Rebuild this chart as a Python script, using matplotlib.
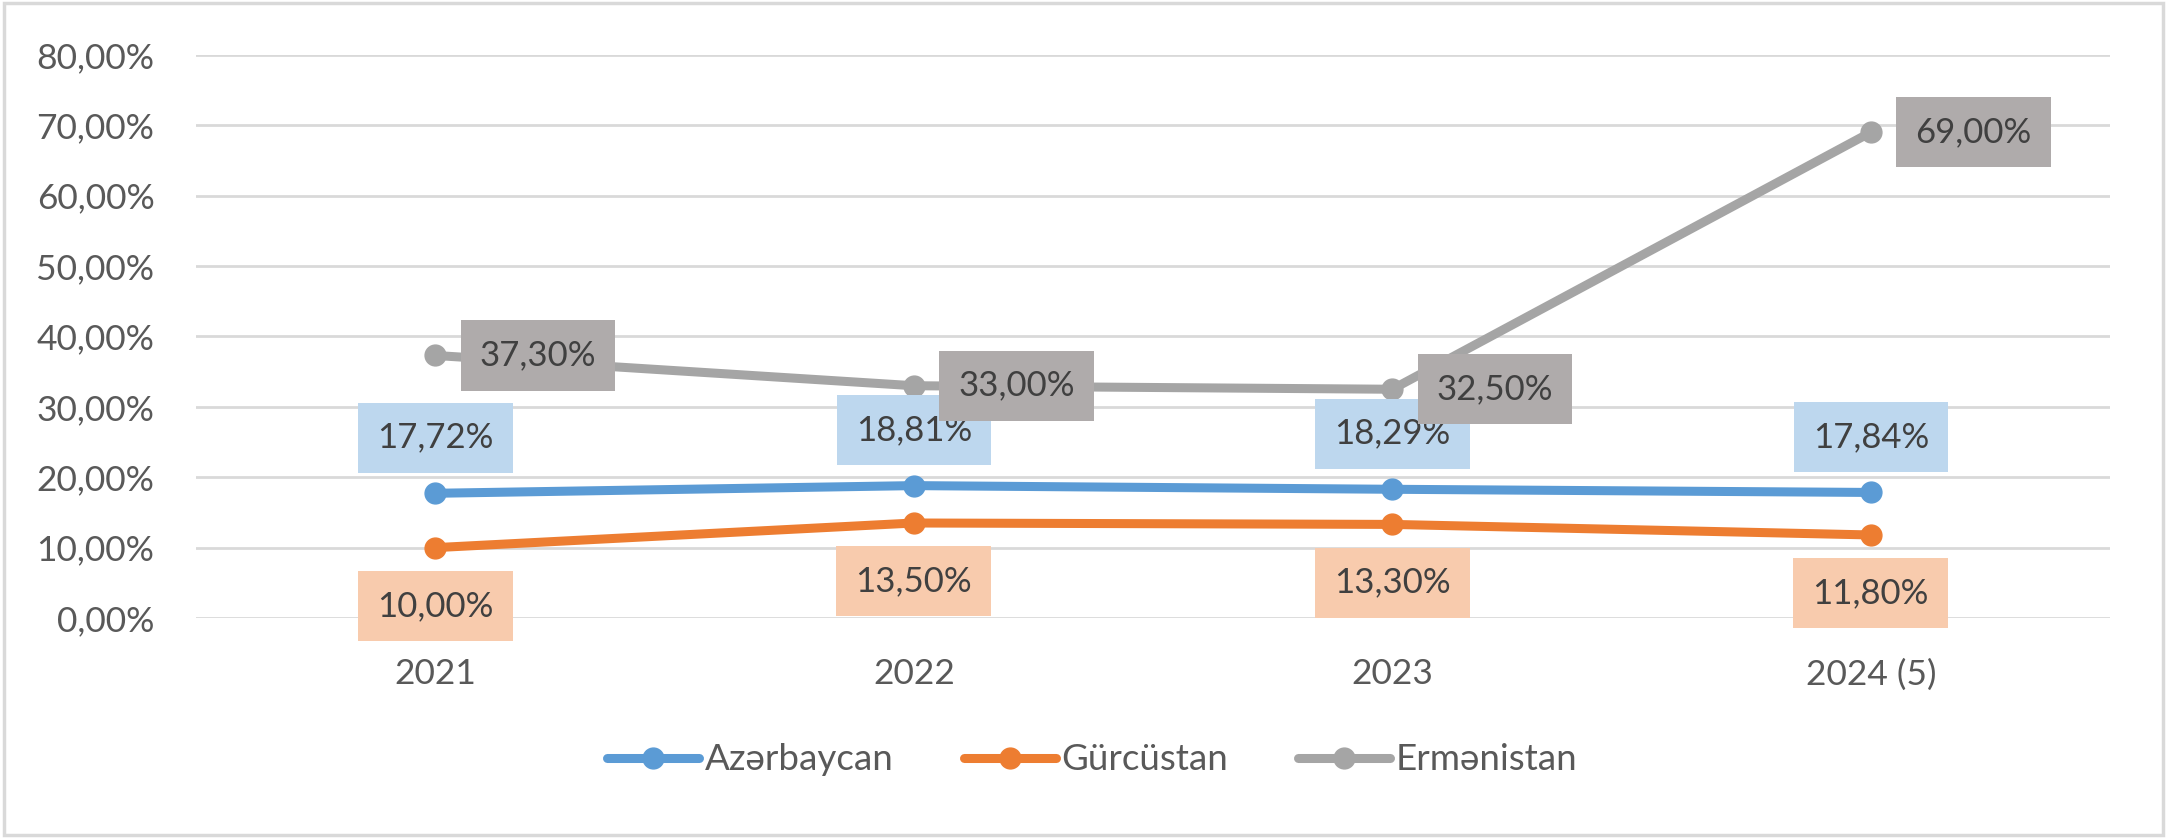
import matplotlib
matplotlib.use("Agg")
import matplotlib.pyplot as plt
from matplotlib.patches import Rectangle
from matplotlib.ticker import FuncFormatter

plt.rcParams["font.family"] = ["Lato", "DejaVu Sans"]

# data
years = ["2021", "2022", "2023", "2024 (5)"]
azerbaycan = [17.72, 18.81, 18.29, 17.84]
gurcustan = [10.00, 13.50, 13.30, 11.80]
ermenistan = [37.30, 33.00, 32.50, 69.00]
y_ticks = [0, 10, 20, 30, 40, 50, 60, 70, 80]

# series: name, values, line colour, label box colour, label offset (points)
series = [
    ("Azərbaycan", azerbaycan, "#5B9BD5", "#BDD7EE", (0, 40)),
    ("Gürcüstan", gurcustan, "#ED7D31", "#F8CBAD", (0, -42)),
    ("Ermənistan", ermenistan, "#A5A5A5", "#AFABAB", (74, 0)),
]

TXT = "#404040"
AX_TXT = "#595959"
GRID = "#D9D9D9"
FS = 25.5


def pct(v):
    return "{:.2f}%".format(v).replace(".", ",")


fig = plt.figure(figsize=(21.67, 8.38), dpi=100)
ax = fig.add_axes([0.0905, 0.2625, 0.8832, 0.672])

x = list(range(len(years)))
for i, (name, vals, col, box, off) in enumerate(series):
    ax.plot(x, vals, color=col, lw=6.5, marker="o", ms=15,
            solid_capstyle="round", label=name, zorder=3 + i)

for i, (name, vals, col, box, off) in enumerate(series):
    for xi, v in zip(x, vals):
        ax.annotate(pct(v), (xi, v), xytext=off, textcoords="offset points",
                    ha="center", va="center", fontsize=25, color=TXT,
                    bbox=dict(boxstyle="square,pad=0.55", fc=box, ec="none"),
                    zorder=10 + i)

ax.set_xlim(-0.5, len(years) - 0.5)
ax.set_ylim(0, 80)
ax.set_yticks(y_ticks)
ax.yaxis.set_major_formatter(FuncFormatter(lambda v, p: pct(v)))
ax.set_xticks(x)
ax.set_xticklabels(years)
ax.tick_params(axis="both", length=0, labelsize=FS, labelcolor=AX_TXT)
ax.tick_params(axis="y", pad=30)
ax.tick_params(axis="x", pad=29)
ax.grid(axis="y", color=GRID, lw=2)
ax.set_axisbelow(True)
for s in ax.spines.values():
    s.set_visible(False)

ax.legend(loc="center", bbox_to_anchor=(0.504, 1 - 760 / 838),
          bbox_transform=fig.transFigure, ncol=3, frameon=False,
          fontsize=26.5, labelcolor=AX_TXT, handlelength=2.5,
          handletextpad=0.15, columnspacing=1.9)

# outer chart border
fig.add_artist(Rectangle((0.002, 0.004), 0.996, 0.992, transform=fig.transFigure,
                         fill=False, ec=GRID, lw=2.5))

fig.savefig("out.png", dpi=100)
